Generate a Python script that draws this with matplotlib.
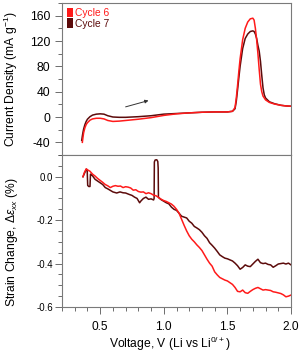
import matplotlib
matplotlib.use("Agg")
import matplotlib.pyplot as plt
from matplotlib.patches import Patch
from matplotlib.ticker import MultipleLocator

plt.rcParams['font.family'] = ['Liberation Sans', 'DejaVu Sans']
plt.rcParams['mathtext.fontset'] = 'custom'
plt.rcParams['mathtext.rm'] = 'Liberation Sans'
plt.rcParams['mathtext.it'] = 'Liberation Sans:italic'
plt.rcParams['axes.unicode_minus'] = False

# ---------------- data ----------------
labels = ["Cycle 6", "Cycle 7"]
colors = ["#ff1a1a", "#5c0b0b"]

# Current density (upper panel)
v6_cd = [0.36, 0.365, 0.37, 0.38, 0.39, 0.40, 0.42, 0.44, 0.47, 0.50, 0.53, 0.56, 0.60,
         0.65, 0.70, 0.80, 0.90, 1.00, 1.10, 1.20, 1.30, 1.40, 1.50, 1.54, 1.56, 1.57,
         1.58, 1.59, 1.60, 1.62, 1.64, 1.66, 1.68, 1.70, 1.71, 1.72, 1.73, 1.74, 1.75,
         1.76, 1.77, 1.78, 1.80, 1.83, 1.87, 1.92, 1.96, 2.0]
j6_cd = [-40, -32, -25, -17, -12, -9, -5, -3, -2, -2, -3, -5.5, -7,
         -6.5, -5.5, -3.5, -1, 2.5, 5, 6.5, 7.5, 8, 8, 9, 15, 30,
         50, 72, 92, 122, 140, 150, 155, 156, 153, 140, 122, 100, 75,
         52, 40, 33, 27, 23, 20.5, 18.5, 17.5, 17]

v7_cd = [0.355, 0.36, 0.365, 0.37, 0.38, 0.39, 0.40, 0.42, 0.44, 0.47, 0.50, 0.53, 0.56,
         0.60, 0.65, 0.70, 0.80, 0.90, 1.00, 1.10, 1.20, 1.30, 1.40, 1.50, 1.54, 1.56,
         1.57, 1.58, 1.59, 1.60, 1.62, 1.64, 1.66, 1.68, 1.70, 1.71, 1.72, 1.73, 1.74,
         1.75, 1.76, 1.77, 1.78, 1.79, 1.80, 1.83, 1.87, 1.92, 1.96, 2.0]
j7_cd = [-37, -30, -24, -19, -12, -7, -3.5, 0.5, 3, 4.5, 5, 4.5, 2,
         0, -0.5, -0.5, 0.5, 2, 4.5, 5.5, 6.5, 7.5, 8, 8, 9, 13,
         25, 43, 62, 80, 108, 124, 131, 135, 136, 135, 131, 124, 113,
         104, 88, 66, 46, 35, 30, 24, 21, 18.5, 17.5, 17]

# Strain change (lower panel)
v6_st = [0.365, 0.375, 0.39, 0.405, 0.42, 0.44, 0.46, 0.48, 0.50, 0.52, 0.54, 0.56, 0.58,
         0.60, 0.62, 0.64, 0.66, 0.68, 0.70, 0.72, 0.74, 0.76, 0.78, 0.80, 0.82, 0.84,
         0.86, 0.88, 0.90, 0.92, 0.94, 0.96, 0.98, 1.00, 1.02, 1.04, 1.06, 1.08, 1.10,
         1.12, 1.14, 1.16, 1.18, 1.20, 1.22, 1.24, 1.26, 1.28, 1.30, 1.32, 1.34, 1.36,
         1.38, 1.40, 1.42, 1.44, 1.46, 1.48, 1.50, 1.52, 1.54, 1.56, 1.58, 1.60, 1.62,
         1.64, 1.66, 1.68, 1.70, 1.72, 1.74, 1.76, 1.78, 1.80, 1.82, 1.84, 1.86, 1.88,
         1.90, 1.92, 1.94, 1.96, 1.98, 2.00]
s6_st = [0.000, 0.018, 0.036, 0.030, 0.025, 0.012, 0.003, -0.008, -0.017, -0.026, -0.036, -0.042, -0.050,
         -0.044, -0.041, -0.044, -0.043, -0.050, -0.046, -0.048, -0.052, -0.062, -0.060, -0.068, -0.071, -0.070,
         -0.078, -0.074, -0.078, -0.085, -0.088, -0.096, -0.104, -0.110, -0.114, -0.120, -0.126, -0.136, -0.150,
         -0.168, -0.196, -0.224, -0.250, -0.272, -0.288, -0.300, -0.314, -0.326, -0.340, -0.360, -0.380, -0.398,
         -0.412, -0.438, -0.452, -0.464, -0.470, -0.476, -0.480, -0.488, -0.496, -0.510, -0.528, -0.530, -0.522,
         -0.534, -0.537, -0.528, -0.520, -0.514, -0.510, -0.516, -0.522, -0.520, -0.522, -0.524, -0.530, -0.532,
         -0.535, -0.538, -0.544, -0.553, -0.550, -0.545]

v7_st = [0.365, 0.38, 0.392, 0.398, 0.402, 0.41, 0.42, 0.424, 0.43, 0.44, 0.46, 0.48, 0.50,
         0.52, 0.54, 0.56, 0.58, 0.60, 0.63, 0.656, 0.68, 0.70, 0.73, 0.75, 0.77, 0.79,
         0.81, 0.82, 0.84, 0.86, 0.88, 0.90, 0.92, 0.924, 0.926, 0.932, 0.945, 0.953, 0.956,
         0.958, 0.967, 0.98, 1.00, 1.02, 1.04, 1.06, 1.08, 1.10, 1.12, 1.14, 1.16, 1.18,
         1.20, 1.22, 1.24, 1.26, 1.28, 1.30, 1.32, 1.34, 1.36, 1.38, 1.40, 1.42, 1.44,
         1.46, 1.48, 1.50, 1.52, 1.54, 1.56, 1.58, 1.60, 1.62, 1.64, 1.66, 1.68, 1.70,
         1.72, 1.74, 1.76, 1.78, 1.80, 1.82, 1.84, 1.86, 1.88, 1.90, 1.92, 1.94, 1.96,
         1.98, 2.00]
s7_st = [0.000, 0.020, 0.035, 0.030, -0.040, -0.045, -0.045, 0.012, 0.010, 0.004, -0.012, -0.020, -0.028,
         -0.036, -0.050, -0.056, -0.063, -0.070, -0.075, -0.070, -0.074, -0.075, -0.082, -0.086, -0.094, -0.100,
         -0.120, -0.112, -0.100, -0.094, -0.104, -0.102, -0.107, -0.100, 0.068, 0.077, 0.078, 0.070, 0.040,
         -0.095, -0.100, -0.106, -0.113, -0.120, -0.125, -0.140, -0.150, -0.155, -0.168, -0.182, -0.186, -0.190,
         -0.205, -0.214, -0.229, -0.236, -0.244, -0.256, -0.272, -0.284, -0.304, -0.316, -0.329, -0.344, -0.360,
         -0.368, -0.375, -0.378, -0.383, -0.388, -0.398, -0.410, -0.426, -0.418, -0.406, -0.412, -0.414, -0.402,
         -0.390, -0.380, -0.396, -0.400, -0.398, -0.404, -0.406, -0.417, -0.410, -0.402, -0.400, -0.398, -0.402,
         -0.398, -0.406]

arrow_start = (0.70, 16)
arrow_end = (0.88, 26)

# ---------------- figure ----------------
fig = plt.figure(figsize=(3.03, 3.56), dpi=100)
L, R = 62 / 303, 291 / 303
ax1 = fig.add_axes([L, 1 - 155 / 356, R - L, (155 - 3) / 356])
ax2 = fig.add_axes([L, 1 - 307 / 356, R - L, (307 - 155) / 356])

spine_c = '#7a7a7a'
tick_c = '#555555'
lab_fs = 8.7

for ax in (ax1, ax2):
    for s in ax.spines.values():
        s.set_color(spine_c)
        s.set_linewidth(0.8)
    ax.tick_params(which='both', direction='out', colors=tick_c, labelcolor='black',
                   width=0.6)
    ax.tick_params(which='major', length=5)
    ax.tick_params(which='minor', length=2.8)
    ax.set_xlim(0.2, 2.0)

# Upper panel
ax1.plot(v7_cd, j7_cd, color=colors[1], lw=1.1)
ax1.plot(v6_cd, j6_cd, color=colors[0], lw=1.1)
ax1.set_ylim(-60, 180)
ax1.yaxis.set_minor_locator(MultipleLocator(20))
ax1.set_yticks([-40, 0, 40, 80, 120, 160])
ax1.tick_params(axis='x', which='both', bottom=False, labelbottom=False)
ax1.tick_params(axis='y', pad=3.5, labelsize=8.7)
ax1.set_ylabel('Current Density (mA g$^{-1}$)', fontsize=lab_fs)
ax1.yaxis.set_label_coords(-0.185, 0.5)
ax1.annotate('', xy=arrow_end, xytext=arrow_start,
             arrowprops=dict(arrowstyle='-|>', color='#333333', lw=0.7,
                             mutation_scale=5, shrinkA=0, shrinkB=0))
handles = [Patch(facecolor=c, edgecolor='none') for c in colors]
leg = ax1.legend(handles, labels, loc='upper left', frameon=False, fontsize=7.4,
                 handlelength=0.6, handleheight=1.05, handletextpad=0.25,
                 labelspacing=0.05, borderaxespad=0.2, borderpad=0.25)
for t, c in zip(leg.get_texts(), colors):
    t.set_color(c)

# Lower panel
ax2.plot(v7_st, s7_st, color=colors[1], lw=1.1)
ax2.plot(v6_st, s6_st, color=colors[0], lw=1.1)
ax2.set_ylim(-0.6, 0.1)
ax2.set_yticks([0.0, -0.2, -0.4, -0.6])
ax2.set_yticklabels(['0.0', '-0.2', '-0.4', '-0.6'])
ax2.yaxis.set_minor_locator(MultipleLocator(0.05))
ax2.set_xticks([0.5, 1.0, 1.5, 2.0])
ax2.set_xticklabels(['0.5', '1.0', '1.5', '2.0'])
ax2.xaxis.set_minor_locator(MultipleLocator(0.1))
ax2.tick_params(axis='x', pad=5.0, labelsize=8.6)
ax2.tick_params(axis='y', pad=1.5, labelsize=6.9)
ax2.set_ylabel('Strain Change, Δ$\\mathit{ε}_{xx}$ (%)', fontsize=lab_fs)
ax2.yaxis.set_label_coords(-0.185, 0.43)
ax2.set_xlabel('Voltage, V (Li vs Li$^{0/+}$)', fontsize=lab_fs)
ax2.xaxis.set_label_coords(0.472, -0.185)

fig.savefig('out.png', dpi=100)
